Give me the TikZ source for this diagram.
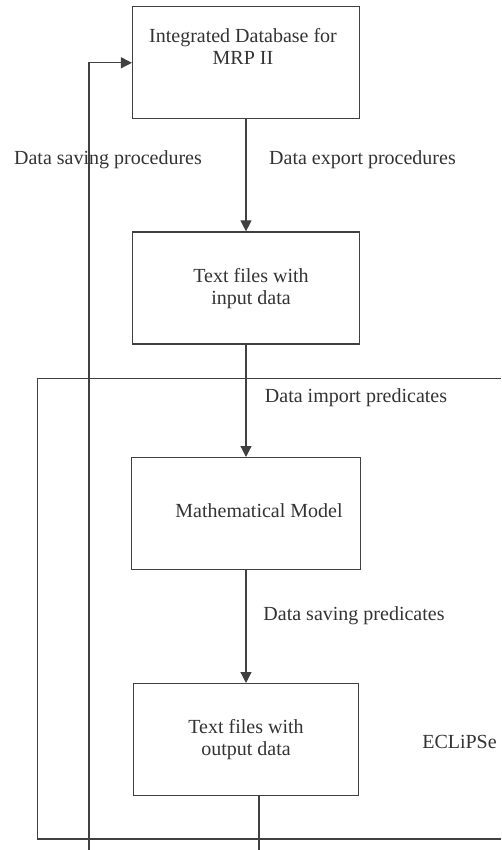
\documentclass[tikz,border=0pt]{standalone}
\usepackage{fontspec}
\setmainfont{Liberation Serif}
\usetikzlibrary{arrows.meta}
\begin{document}
\begin{tikzpicture}[x=1pt, y=-1pt, line width=1.2pt, draw=black!75,
  every node/.style={text=black!80, font=\fontsize{20}{22}\selectfont},
  box/.style={draw, rectangle, minimum width=227pt, minimum height=112pt, inner sep=0pt},
  txt/.style={align=center, inner sep=0pt},
  flow/.style={-{Triangle[length=11pt, width=11pt]}}]
\useasboundingbox (0,0) rectangle (501,850);
% the four stages
\node[box] (db)      at (246,62.8)  {};
\node[box] (infile)  at (246,288)   {};
\node[box, minimum width=229pt] (model) at (246,513.6) {};
\node[box, minimum width=225pt] (outfile) at (246,739.6) {};
\node[txt] (dbtext)      at (243,46)  {Integrated Database for\\MRP II};
\node[txt] (intext)      at (251,289) {Text files with\\input data};
\node[txt] (modeltext)   at (259,511) {Mathematical Model};
\node[txt] (outtext)     at (246,740) {Text files with\\output data};
% ECLiPSe frame, open to the right
\draw (501,378.7) -| (37.3,839) -- (501,839);
\node[txt] (eclipse) at (459.5,742) {ECLiPSe};
% connectors
\draw[flow] (db) -- (infile);
\draw[flow] (infile) -- (model);
\draw[flow] (model) -- (outfile);
\coordinate (outend)  at (259,850);
\coordinate (loopend) at (89,850);
\draw (outfile.south -| outend) -- (outend);
\draw[flow] (loopend) |- (db.west);
% labels
\node[txt] (saveproc)   at (108,160)   {Data saving procedures};
\node[txt] (exportproc) at (362.5,160) {Data export procedures};
\node[txt] (importpred) at (356,398)   {Data import predicates};
\node[txt] (savepred)   at (354,616)   {Data saving predicates};
\end{tikzpicture}
\end{document}
